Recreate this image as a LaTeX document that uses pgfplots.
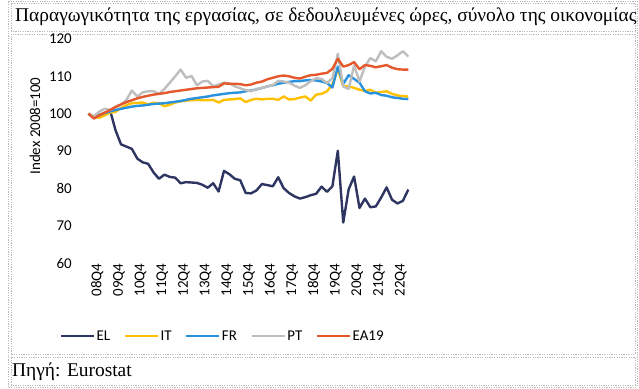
\documentclass[border=0pt]{standalone}
\usepackage{fontspec}
\setmainfont{Liberation Serif}
\newfontfamily\calibri{Carlito}
\usepackage{pgfplots}
\usepackage{pgfplotstable}
\pgfplotsset{compat=1.18}
\definecolor{elc}{RGB}{47,53,97}
\definecolor{itc}{RGB}{255,192,0}
\definecolor{frc}{RGB}{41,146,222}
\definecolor{ptc}{RGB}{190,190,190}
\definecolor{eac}{RGB}{228,88,44}
\pgfplotstableread{
i EL IT FR PT EA
0 100 100 100 100 100
1 98.8 99.2 99.0 99.3 98.7
2 99.6 98.9 99.7 100.6 99.6
3 100.2 99.6 100.2 101.3 100.3
4 100.8 100.3 100.6 101.0 101.0
5 95.5 100.5 101.0 101.8 101.8
6 91.8 101.5 101.3 102.4 102.5
7 91.2 102.3 101.6 103.7 103.1
8 90.6 102.8 101.9 106.2 103.6
9 88.0 102.9 102.1 104.6 104.1
10 87.0 103.0 102.2 105.7 104.5
11 86.6 102.5 102.4 106.0 104.8
12 84.3 102.9 102.6 106.0 105.1
13 82.6 102.8 102.7 105.3 105.3
14 83.7 102.0 102.8 106.6 105.5
15 83.1 102.4 103.0 108.3 105.8
16 82.9 103.0 103.2 110.0 106.0
17 81.4 103.3 103.4 111.8 106.2
18 81.7 103.5 103.7 109.6 106.4
19 81.6 103.6 104.0 110.1 106.6
20 81.5 103.7 104.2 107.6 106.8
21 81.0 103.6 104.4 108.6 106.9
22 80.2 103.6 104.6 108.8 107.0
23 81.4 103.7 104.9 107.3 107.1
24 79.2 103.0 105.1 107.8 107.2
25 84.7 103.7 105.3 108.3 108.1
26 83.8 103.8 105.5 108.1 108.0
27 82.6 103.9 105.6 107.3 108.0
28 82.2 104.1 105.7 106.8 107.9
29 78.8 103.1 106.0 106.3 107.6
30 78.7 103.7 106.2 106.0 107.8
31 79.5 104.0 106.5 106.6 108.3
32 81.2 103.8 106.9 106.9 108.6
33 80.9 104.0 107.3 107.3 109.2
34 80.6 104.0 107.6 107.6 109.6
35 83.0 103.7 108.0 108.8 110.0
36 80.1 104.6 108.3 108.6 110.2
37 78.8 103.8 108.5 108.3 110.0
38 77.9 103.9 108.7 107.5 109.6
39 77.3 104.3 108.7 106.9 109.4
40 77.7 104.6 108.9 107.6 109.9
41 78.2 103.5 109.0 108.7 110.3
42 78.6 105.1 108.9 109.5 110.4
43 80.5 105.3 108.6 109.3 110.7
44 79.1 106.0 108.2 108.2 110.9
45 80.6 107.8 107.0 109.5 112.0
46 90.1 112.0 112.6 116.0 114.7
47 70.9 107.3 108.0 107.3 112.6
48 79.8 107.3 110.3 106.6 113.0
49 83.2 106.9 109.3 112.9 113.8
50 74.8 106.4 108.3 108.6 111.9
51 77.3 106.1 106.0 112.6 113.0
52 75.0 106.4 105.4 114.9 112.8
53 75.2 105.6 105.6 114.0 112.4
54 77.6 105.8 105.0 116.7 112.7
55 80.3 106.0 104.8 115.2 113.0
56 77.0 105.3 104.4 114.7 112.3
57 76.0 104.9 104.2 115.6 111.9
58 76.7 104.7 104.0 116.7 111.8
59 79.7 104.6 103.9 115.3 111.8
}\prodtable
\begin{document}
\begin{tikzpicture}[x=1bp,y=1bp]
\useasboundingbox (0,0) rectangle (639,388);
\begin{scope}[draw=gray!55, line width=0.6bp, dash pattern=on 1.2bp off 1.2bp]
\draw (8,1) rectangle (637,387);
\draw (11,357) rectangle (635,385);
\draw (11,34) rectangle (635,354);
\draw (11,3) rectangle (635,31);
\end{scope}
\node[anchor=west, inner sep=0, font=\fontsize{19.5}{19.5}\selectfont] at (15,371) {Παραγωγικότητα της εργασίας, σε δεδουλευμένες ώρες, σύνολο της οικονομίας};
\node[anchor=west, inner sep=0, font=\fontsize{19.5}{19.5}\selectfont] at (12,16) {Πηγή: Eurostat};
\begin{axis}[
  at={(85.8bp,124.7bp)}, anchor=south west,
  scale only axis, width=325.2bp, height=224.4bp,
  xmin=-0.5, xmax=59.5, ymin=60, ymax=120,
  ytick={60,70,...,120},
  xtick={0,4,...,56},
  xticklabels={08Q4,09Q4,10Q4,11Q4,12Q4,13Q4,14Q4,15Q4,16Q4,17Q4,18Q4,19Q4,20Q4,21Q4,22Q4},
  axis line style={draw=none},
  tick style={draw=none},
  major tick length=0pt,
  /pgf/number format/assume math mode=true,
  tick label style={font=\calibri\fontsize{15}{15}\selectfont, text=black},
  yticklabel style={anchor=east, inner sep=0pt, xshift=-13.8bp},
  xticklabel style={rotate=90, anchor=east, inner sep=0pt, yshift=-8.7bp},
  ylabel={Index 2008=100},
  ylabel style={font=\calibri\fontsize{15}{15}\selectfont, at={(axis description cs:-0.156,0.612)}, anchor=center, rotate=0},
  legend columns=5,
  legend style={at={(axis description cs:0.42,-0.324)}, anchor=center, draw=none, fill=none,
    font=\calibri\fontsize{15}{15}\selectfont, nodes={inner sep=1.5bp},
    /tikz/every even column/.append style={column sep=12bp}},
  legend image code/.code={\draw[#1, line width=2.4bp] (0bp,0bp) -- (33bp,0bp);},
  every axis plot/.append style={line width=2.4bp, line join=round, no marks},
]
\addplot[elc] table[x=i, y=EL] {\prodtable};
\addplot[itc] table[x=i, y=IT] {\prodtable};
\addplot[frc] table[x=i, y=FR] {\prodtable};
\addplot[ptc] table[x=i, y=PT] {\prodtable};
\addplot[eac] table[x=i, y=EA] {\prodtable};
\legend{EL,IT,FR,PT,EA19}
\end{axis}
\end{tikzpicture}
\end{document}
